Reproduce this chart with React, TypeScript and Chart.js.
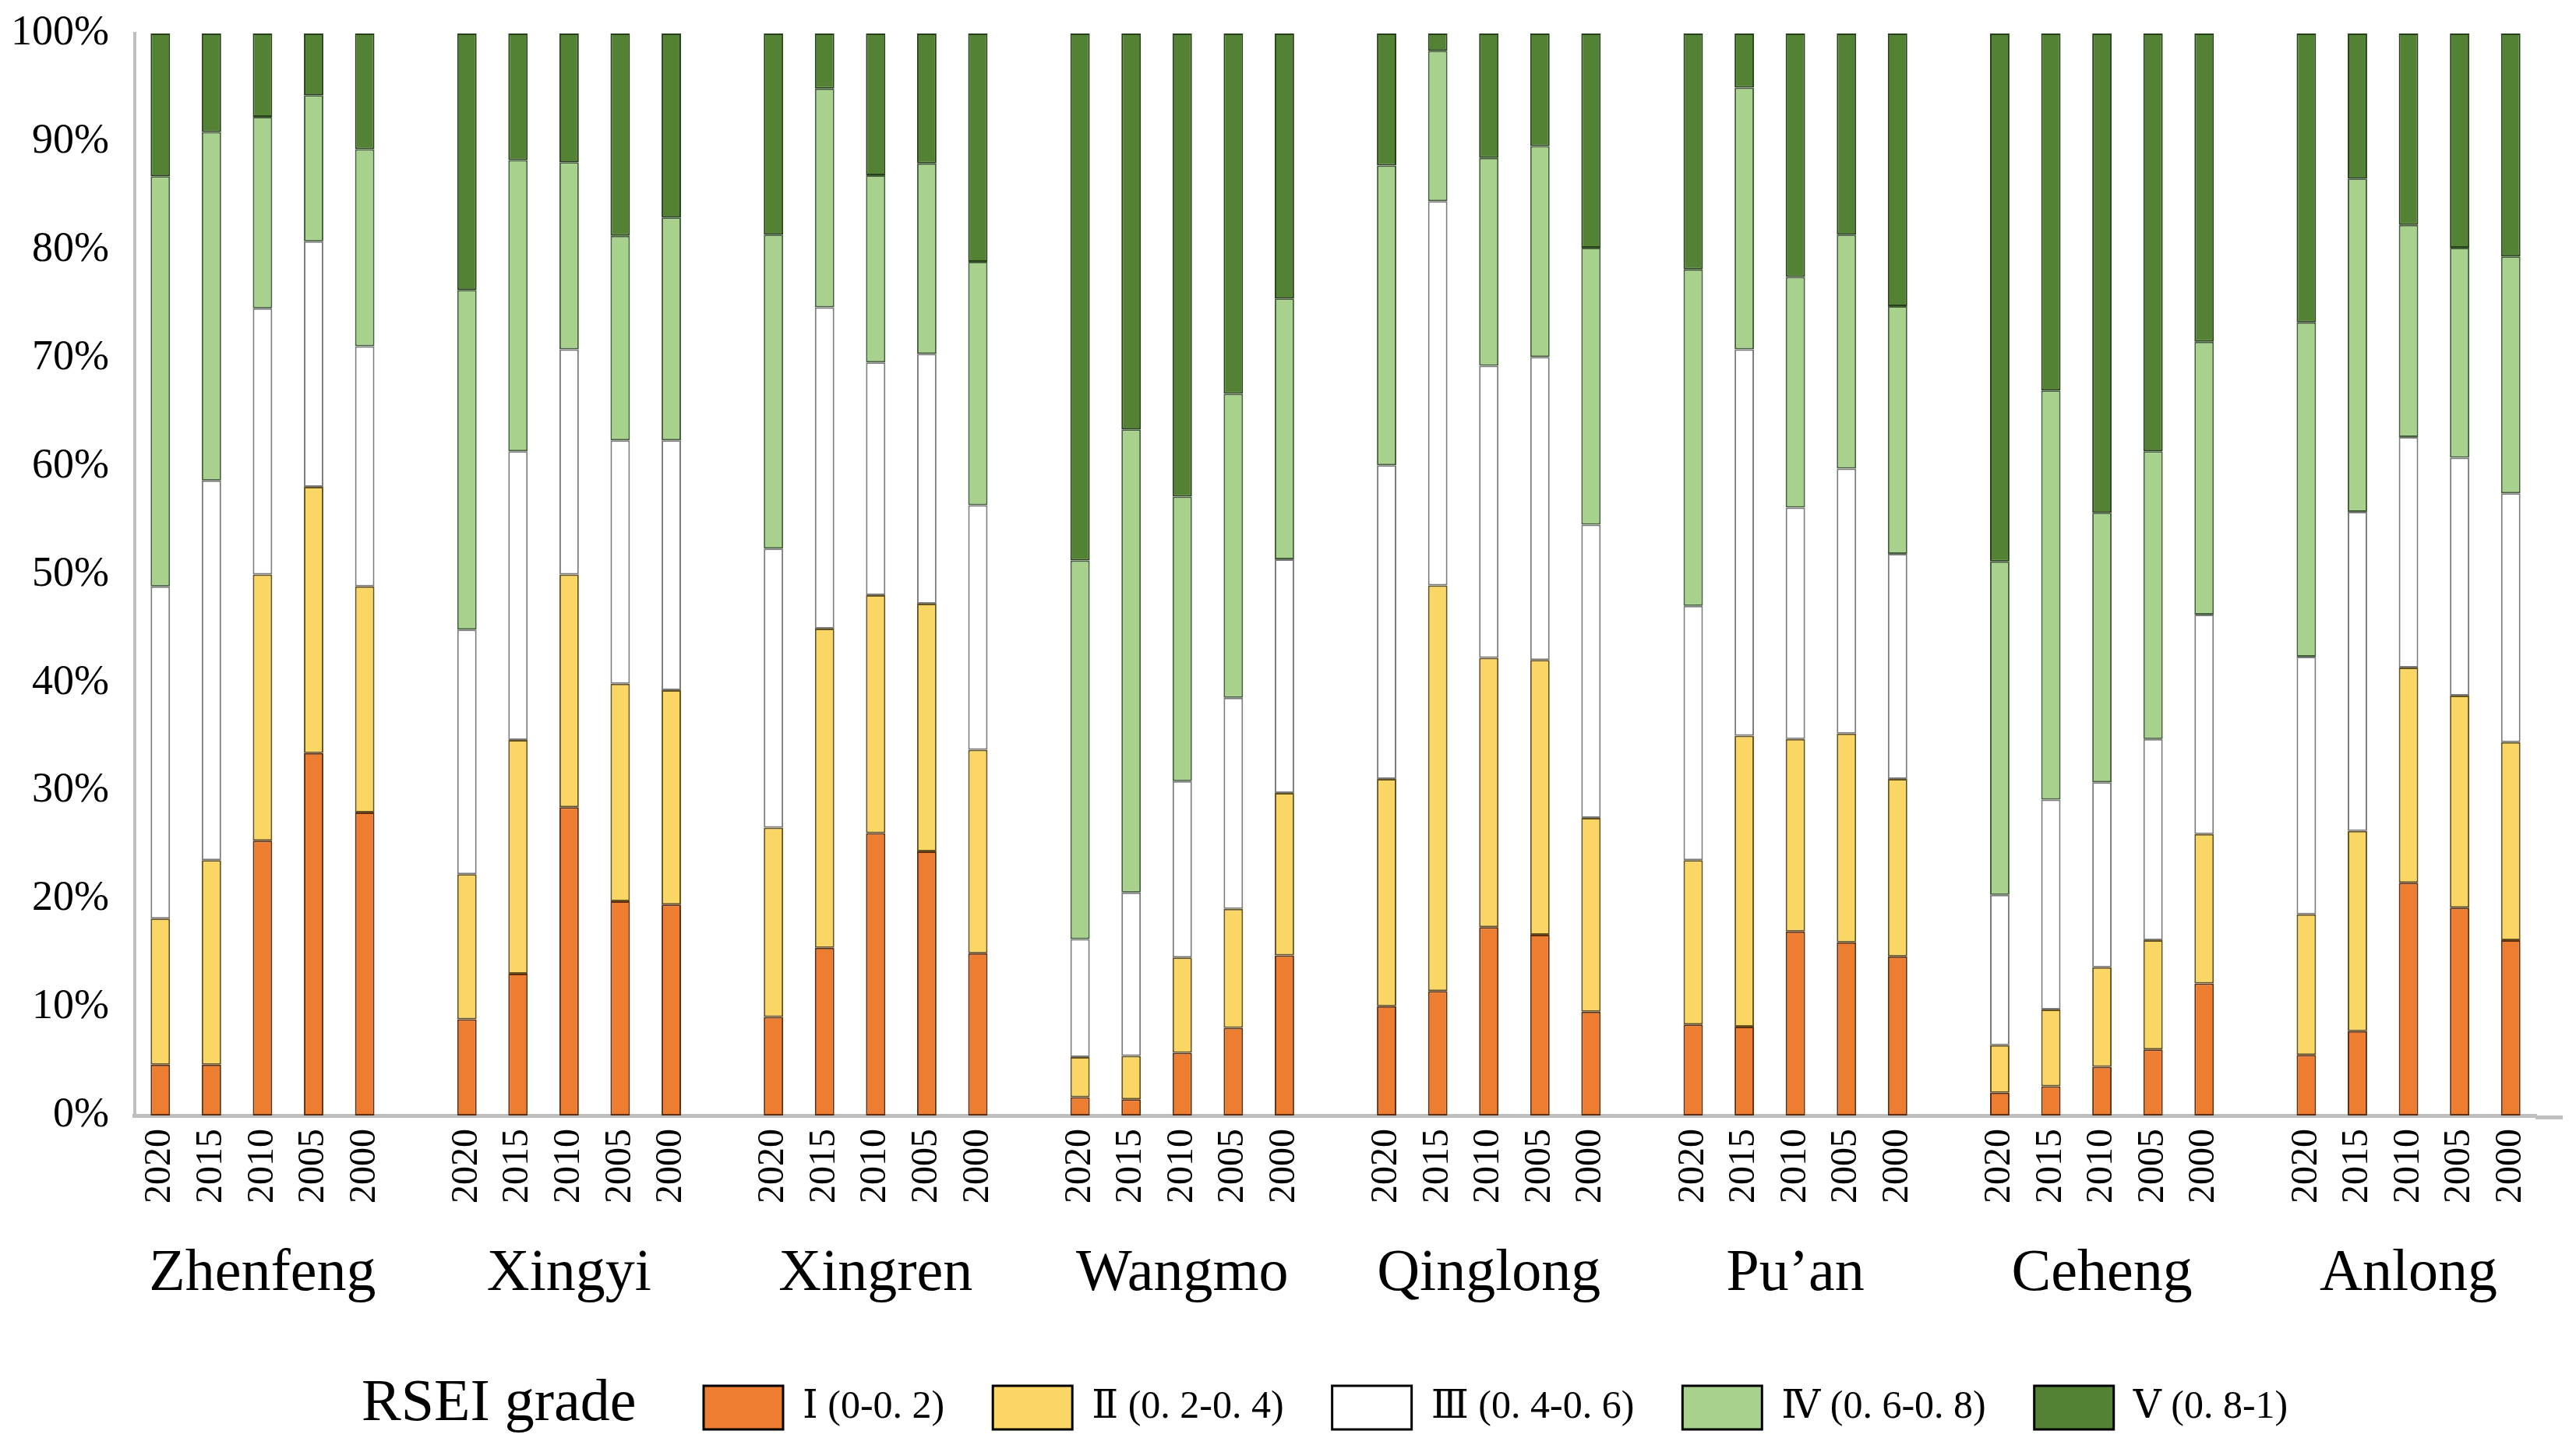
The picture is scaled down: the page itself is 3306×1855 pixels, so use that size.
import React, { useEffect, useRef } from 'react';
import { Chart, registerables } from 'chart.js';

Chart.register(...registerables);

// ---- Data ----
const counties = ['Zhenfeng', 'Xingyi', 'Xingren', 'Wangmo', 'Qinglong', 'Pu\u2019an', 'Ceheng', 'Anlong'];
const years = ['2020', '2015', '2010', '2005', '2000'];
const gradeNames = ['\u2160 (0-0. 2)', '\u2161 (0. 2-0. 4)', '\u2162 (0. 4-0. 6)', '\u2163 (0. 6-0. 8)', '\u2164 (0. 8-1)'];
const yTicks = [0, 10, 20, 30, 40, 50, 60, 70, 80, 90, 100];

// values (%) per county, years 2020, 2015, 2010, 2005, 2000
const gradeI = [
  4.7, 4.7, 25.4, 33.5, 28.0,
  8.9, 13.1, 28.5, 19.8, 19.5,
  9.1, 15.5, 26.1, 24.4, 15.0,
  1.7, 1.5, 5.8, 8.1, 14.8,
  10.1, 11.5, 17.4, 16.7, 9.6,
  8.4, 8.2, 17.0, 16.0, 14.7,
  2.1, 2.7, 4.5, 6.1, 12.2,
  5.6, 7.8, 21.5, 19.2, 16.2,
];
const gradeII = [
  13.5, 18.9, 24.6, 24.6, 20.9,
  13.4, 21.6, 21.5, 20.1, 19.8,
  17.5, 29.5, 22.0, 22.9, 18.8,
  3.7, 4.0, 8.8, 11.0, 15.0,
  21.0, 37.5, 24.9, 25.4, 17.9,
  15.2, 26.9, 17.8, 19.3, 16.4,
  4.4, 7.1, 9.2, 10.1, 13.8,
  13.0, 18.5, 19.9, 19.6, 18.3,
];
const gradeIII = [
  30.7, 35.1, 24.6, 22.7, 22.2,
  22.6, 26.7, 20.8, 22.5, 23.1,
  25.8, 29.7, 21.5, 23.1, 22.6,
  10.9, 15.1, 16.3, 19.5, 21.6,
  29.0, 35.5, 27.0, 28.0, 27.1,
  23.5, 35.7, 21.4, 24.5, 20.8,
  13.9, 19.4, 17.1, 18.6, 20.3,
  23.8, 29.5, 21.3, 22.0, 23.0,
];
const gradeIV = [
  37.9, 32.2, 17.7, 13.5, 18.2,
  31.4, 26.9, 17.3, 18.9, 20.6,
  29.0, 20.2, 17.3, 17.6, 22.5,
  35.0, 42.8, 26.3, 28.1, 24.1,
  27.7, 13.9, 19.2, 19.5, 25.6,
  31.1, 24.2, 21.3, 21.6, 22.9,
  30.8, 37.8, 24.9, 26.6, 25.2,
  30.9, 30.8, 19.6, 19.4, 21.9,
];
const gradeV = [
  13.2, 9.1, 7.7, 5.7, 10.7,
  23.7, 11.7, 11.9, 18.7, 17.0,
  18.6, 5.1, 13.1, 12.0, 21.1,
  48.7, 36.6, 42.8, 33.3, 24.5,
  12.2, 1.6, 11.5, 10.4, 19.8,
  21.8, 5.0, 22.5, 18.6, 25.2,
  48.8, 33.0, 44.3, 38.6, 28.5,
  26.7, 13.4, 17.7, 19.8, 20.6,
];

const fillColors = ['#ED7D31', '#FAD764', '#FFFFFF', '#A9D18E', '#548235'];
const borderColors = ['#5E2E10', '#645220', '#7A7A7A', '#44603A', '#27421A'];

const SERIF = '"Liberation Serif", "Times New Roman", serif';
const LEGEND_FONT = '"Liberation Serif", "DejaVu Serif", "Noto Sans CJK SC", serif';

// ---- build category layout (blank slot between counties) ----
const yearLabels: string[] = [];
const countyLabels: string[] = [];
const slotIndex: number[] = [];
counties.forEach((c, ci) => {
  if (ci > 0) {
    yearLabels.push('');
    countyLabels.push('');
  }
  years.forEach((y, yi) => {
    slotIndex.push(yearLabels.length);
    yearLabels.push(y);
    countyLabels.push(yi === 2 ? c : '');
  });
});
const expand = (vals: number[]) => {
  const out: (number | null)[] = yearLabels.map(() => null);
  vals.forEach((v, i) => {
    out[slotIndex[i]] = v;
  });
  return out;
};
const series = [gradeI, gradeII, gradeIII, gradeIV, gradeV];

const LEGEND_BOX_LEFT = 903;
const LEGEND_BOX_TOP = 1779;
const LEGEND_PAD = 62;
const Y_PAD = 33;

const extrasPlugin = {
  id: 'extras',
  afterLayout(chart: any) {
    const lg = chart.legend;
    if (lg) {
      const dx = LEGEND_BOX_LEFT - (lg.left + LEGEND_PAD);
      lg.left += dx;
      lg.right += dx;
      const dy = LEGEND_BOX_TOP - (lg.top + LEGEND_PAD);
      lg.top += dy;
      lg.bottom += dy;
    }
  },
  afterDraw(chart: any) {
    const { ctx, chartArea } = chart;
    const xs = chart.scales.x;
    ctx.save();
    ctx.strokeStyle = '#BFBFBF';
    ctx.lineWidth = 5;
    ctx.beginPath();
    ctx.moveTo(chartArea.right - 1, xs.top + 2.5);
    ctx.lineTo(chartArea.right + 34, xs.top + 2.5);
    ctx.stroke();
    ctx.fillStyle = '#000';
    ctx.font = '76px ' + SERIF;
    ctx.textAlign = 'left';
    ctx.textBaseline = 'alphabetic';
    ctx.fillText('RSEI grade', 464, LEGEND_BOX_TOP + 44);
    ctx.restore();
  },
};

export default function App() {
  const ref = useRef<HTMLCanvasElement | null>(null);
  useEffect(() => {
    if (!ref.current) return;
    const chart = new Chart(ref.current, {
      type: 'bar',
      data: {
        labels: yearLabels,
        datasets: series.map((vals, i) => ({
          label: gradeNames[i],
          data: expand(vals),
          backgroundColor: fillColors[i],
          borderColor: borderColors[i],
          borderWidth: 2,
          borderSkipped: false,
          barPercentage: 0.38,
          categoryPercentage: 1,
          xAxisID: 'x',
          yAxisID: 'y',
        })),
      },
      options: {
        responsive: false,
        devicePixelRatio: 1,
        animation: false,
        layout: { padding: { left: 14, right: 51, top: 43, bottom: 37 } },
        scales: {
          x: {
            type: 'category',
            stacked: true,
            offset: true,
            position: 'bottom',
            grid: { display: false, drawTicks: false },
            border: { display: true, color: '#BFBFBF', width: 5 },
            afterFit: (s: any) => {
              s.height = 118;
              s.paddingLeft = 0;
              s.paddingRight = 0;
            },
            ticks: {
              autoSkip: false,
              maxRotation: 90,
              minRotation: 90,
              padding: 17,
              color: '#000',
              font: { family: SERIF, size: 48 },
            },
          },
          x2: {
            type: 'category',
            labels: countyLabels,
            offset: true,
            position: 'bottom',
            grid: { display: false, drawTicks: false },
            border: { display: false },
            afterFit: (s: any) => {
              s.height = 140;
              s.paddingLeft = 0;
              s.paddingRight = 0;
            },
            ticks: {
              autoSkip: false,
              maxRotation: 0,
              minRotation: 0,
              padding: 40,
              color: '#000',
              font: { family: SERIF, size: 76 },
            },
          },
          y: {
            stacked: true,
            min: 0,
            max: 100,
            grid: { display: false, drawTicks: false },
            border: { display: true, color: '#BFBFBF', width: 4 },
            afterBuildTicks: (s: any) => {
              s.ticks = yTicks.map((v) => ({ value: v }));
            },
            afterFit: (s: any) => {
              s.width = s.width - Y_PAD;
              s.paddingTop = 0;
              s.paddingBottom = 0;
            },
            ticks: {
              padding: Y_PAD,
              color: '#000',
              font: { family: SERIF, size: 54 },
              callback: (v: any) => v + '%',
            },
          },
        },
        plugins: {
          tooltip: { enabled: false },
          legend: {
            display: true,
            position: 'bottom',
            align: 'start',
            maxHeight: 150,
            labels: {
              boxWidth: 102,
              boxHeight: 56,
              padding: LEGEND_PAD,
              color: '#000',
              font: { family: LEGEND_FONT, size: 50 },
              generateLabels: () =>
                gradeNames.map((t, i) => ({
                  text: t,
                  fillStyle: fillColors[i],
                  strokeStyle: '#000',
                  lineWidth: 3,
                  hidden: false,
                  datasetIndex: i,
                  fontColor: '#000',
                })),
            },
          },
        },
      },
      plugins: [extrasPlugin],
    });
    return () => chart.destroy();
  }, []);
  return (
    <div style={{ position: 'absolute', left: 0, top: 0, width: 3306, height: 1855, background: '#fff' }}>
      <canvas ref={ref} width={3306} height={1855} />
    </div>
  );
}
